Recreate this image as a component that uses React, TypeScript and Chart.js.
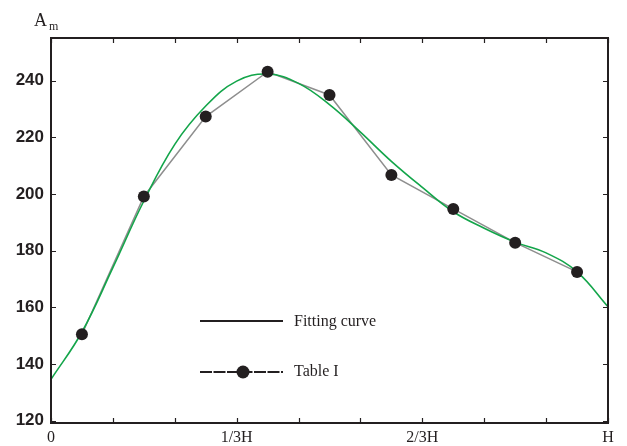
import React, { useEffect, useRef } from "react";
import { Chart, registerables } from "chart.js";

Chart.register(...registerables);

// Measured data (Table I), x in units of H/9
const tableX = [0.5, 1.5, 2.5, 3.5, 4.5, 5.5, 6.5, 7.5, 8.5];
const tableY = [150.5, 199.1, 227.3, 243.1, 234.9, 206.7, 194.7, 182.8, 172.5];

// Fitting curve samples
const curveX = [0, 0.5, 1.0, 1.5, 2.0, 2.5, 3.0, 3.5, 4.0, 4.5, 5.0, 5.5, 6.0, 6.5, 7.0, 7.5, 8.0, 8.5, 9.0];
const curveY = [134.6, 151.3, 174.0, 197.5, 217.5, 231.0, 239.8, 242.3, 239.0, 231.5, 221.8, 211.5, 202.3, 193.7, 187.9, 183.0, 179.2, 172.5, 160.2];

// Axis ticks
const yTicks = [120, 140, 160, 180, 200, 220, 240];
const xTickValues = [0, 1, 2, 3, 4, 5, 6, 7, 8, 9];
const xTickLabels: Record<number, string> = { 0: "0", 3: "1/3H", 6: "2/3H", 9: "H" };

const INK = "#231f20";
const SERIF = "'Liberation Serif', 'Times New Roman', serif";
const SANS = "'Liberation Sans', Arial, sans-serif";

const framePlugin = {
  id: "frame",
  afterDraw(chart: any) {
    const { ctx, chartArea } = chart;
    const { left, right, top, bottom } = chartArea;
    const xs = chart.scales.x;
    const ys = chart.scales.y;
    ctx.save();
    ctx.strokeStyle = INK;
    ctx.lineWidth = 2;
    ctx.strokeRect(left, top, right - left, bottom - top);
    ctx.lineWidth = 1.2;
    const tl = 5;
    ctx.beginPath();
    for (const v of yTicks) {
      const y = Math.round(ys.getPixelForValue(v)) + 0.5;
      ctx.moveTo(left, y);
      ctx.lineTo(left + tl, y);
      ctx.moveTo(right, y);
      ctx.lineTo(right - tl, y);
    }
    for (const v of xTickValues) {
      const x = Math.round(xs.getPixelForValue(v)) + 0.5;
      ctx.moveTo(x, bottom);
      ctx.lineTo(x, bottom - tl);
      ctx.moveTo(x, top);
      ctx.lineTo(x, top + tl);
    }
    ctx.stroke();

    // Axis title A_m
    ctx.fillStyle = INK;
    ctx.textBaseline = "alphabetic";
    ctx.textAlign = "left";
    ctx.font = `18px ${SERIF}`;
    ctx.fillText("A", 34, 26);
    ctx.font = `12px ${SERIF}`;
    ctx.fillText("m", 49, 30);

    // Legend
    ctx.lineWidth = 2;
    ctx.strokeStyle = INK;
    ctx.beginPath();
    ctx.moveTo(200, 321);
    ctx.lineTo(283, 321);
    ctx.stroke();
    ctx.setLineDash([12, 1.5]);
    ctx.beginPath();
    ctx.moveTo(200, 372);
    ctx.lineTo(283, 372);
    ctx.stroke();
    ctx.setLineDash([]);
    ctx.beginPath();
    ctx.arc(243, 372, 6.5, 0, Math.PI * 2);
    ctx.fill();
    ctx.font = `16px ${SERIF}`;
    ctx.textBaseline = "middle";
    ctx.fillText("Fitting curve", 294, 322);
    ctx.fillText("Table I", 294, 372);
    ctx.restore();
  },
};

export default function App() {
  const ref = useRef<HTMLCanvasElement | null>(null);
  useEffect(() => {
    if (!ref.current) return;
    const tablePts = tableX.map((x, i) => ({ x, y: tableY[i] }));
    const curvePts = curveX.map((x, i) => ({ x, y: curveY[i] }));
    const chart = new Chart(ref.current, {
      type: "line",
      data: {
        datasets: [
          {
            label: "Table I points",
            data: tablePts,
            showLine: false,
            pointRadius: 6,
            pointBackgroundColor: INK,
            pointBorderWidth: 0,
            borderColor: INK,
          },
          {
            label: "Fitting curve",
            data: curvePts,
            borderColor: "#13a54a",
            borderWidth: 1.6,
            pointRadius: 0,
            tension: 0.4,
            fill: false,
          },
          {
            label: "Table I",
            data: tablePts,
            borderColor: "#8e8e8e",
            borderWidth: 1.5,
            pointRadius: 0,
            tension: 0,
            fill: false,
          },
        ],
      },
      options: {
        responsive: false,
        animation: false,
        devicePixelRatio: 1,
        layout: { padding: { top: 38, right: 19, left: 0, bottom: 0 } },
        plugins: { legend: { display: false }, tooltip: { enabled: false } },
        scales: {
          x: {
            type: "linear",
            min: 0,
            max: 9,
            grid: { display: false, drawTicks: false },
            border: { display: false },
            afterBuildTicks: (s: any) => {
              s.ticks = xTickValues.map((v) => ({ value: v }));
            },
            afterFit: (s: any) => {
              s.height = 23;
            },
            ticks: {
              autoSkip: false,
              maxRotation: 0,
              padding: 5,
              color: INK,
              font: { family: SERIF, size: 16 },
              callback: (v: any) => xTickLabels[Number(v)] ?? "",
            },
          },
          y: {
            type: "linear",
            min: 119.2,
            max: 255,
            grid: { display: false, drawTicks: false },
            border: { display: false },
            afterBuildTicks: (s: any) => {
              s.ticks = yTicks.map((v) => ({ value: v }));
            },
            afterFit: (s: any) => {
              s.width = 51;
            },
            ticks: {
              padding: 7,
              color: INK,
              font: { family: SANS, size: 17, weight: "bold" },
              callback: (v: any) => String(v),
            },
          },
        },
      },
      plugins: [framePlugin],
    });
    return () => chart.destroy();
  }, []);
  return (
    <div style={{ position: "fixed", left: 0, top: 0, width: 627, height: 446, background: "#fff" }}>
      <canvas ref={ref} width={627} height={446} />
    </div>
  );
}
